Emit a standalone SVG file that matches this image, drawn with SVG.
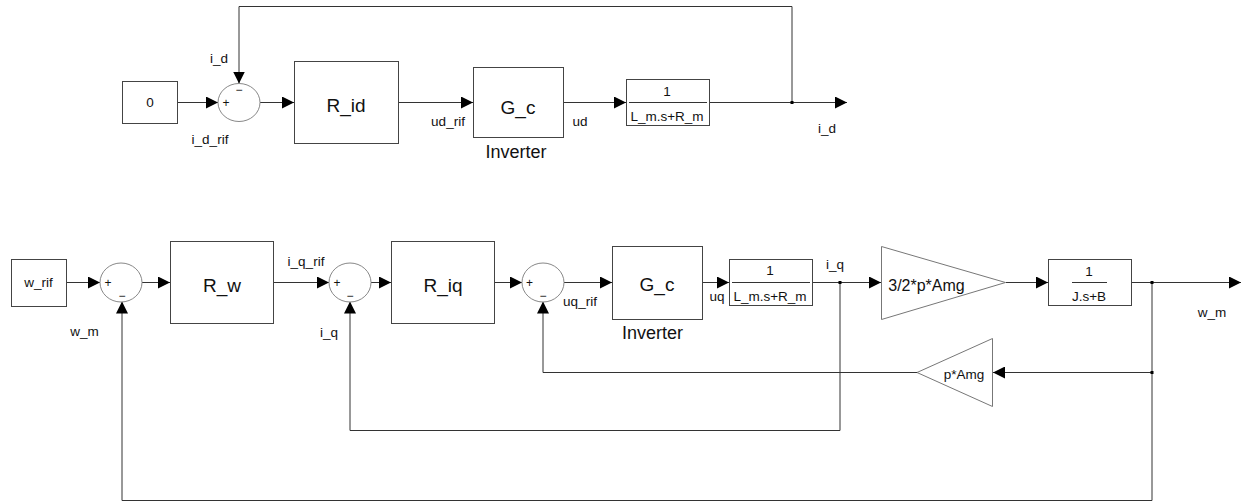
<svg xmlns="http://www.w3.org/2000/svg" width="1242" height="503" viewBox="0 0 1242 503">
<defs>
<marker id="ar" viewBox="0 0 12 12" refX="12" refY="6" markerWidth="12" markerHeight="12" markerUnits="userSpaceOnUse" orient="auto">
<path d="M0,0 L12,6 L0,12 z" fill="#000"/>
</marker>
</defs>
<style>
.blk{fill:#fff;stroke:#444;stroke-width:1}
.sum{fill:#fff;stroke:#888;stroke-width:1}
.gain{fill:#fff;stroke:#777;stroke-width:1}
.ln{fill:none;stroke:#333;stroke-width:1}
.t{font-family:"Liberation Sans",Arial,sans-serif;fill:#111;text-anchor:middle}
.big{font-size:19px}
.lab{font-size:13.5px}
.sm{font-size:13.5px}
.sg{font-size:12px}
.dot{fill:#000}
</style>
<rect width="1242" height="503" fill="#fff"/>

<g id="connectors">
<path class="ln" d="M177,102.5 L218,102.5" marker-end="url(#ar)"/>
<path class="ln" d="M260,102.5 L294,102.5" marker-end="url(#ar)"/>
<path class="ln" d="M398,102.5 L473,102.5" marker-end="url(#ar)"/>
<path class="ln" d="M563,102.5 L626,102.5" marker-end="url(#ar)"/>
<path class="ln" d="M709,102.5 L847,102.5" marker-end="url(#ar)"/>
<path class="ln" d="M792,102.5 L792,6.5 L239,6.5 L239,83.5" marker-end="url(#ar)"/>

<path class="ln" d="M66,282.5 L100,282.5" marker-end="url(#ar)"/>
<path class="ln" d="M142,282.5 L170,282.5" marker-end="url(#ar)"/>
<path class="ln" d="M273,282.5 L329,282.5" marker-end="url(#ar)"/>
<path class="ln" d="M371,282.5 L391,282.5" marker-end="url(#ar)"/>
<path class="ln" d="M494,282.5 L522,282.5" marker-end="url(#ar)"/>
<path class="ln" d="M564,282.5 L612,282.5" marker-end="url(#ar)"/>
<path class="ln" d="M702,282.5 L729,282.5" marker-end="url(#ar)"/>
<path class="ln" d="M812,282.5 L881,282.5" marker-end="url(#ar)"/>
<path class="ln" d="M1006,282.5 L1048,282.5" marker-end="url(#ar)"/>
<path class="ln" d="M1131,282.5 L1241,282.5" marker-end="url(#ar)"/>
<path class="ln" d="M1152,282.5 L1152,372.5 L993,372.5" marker-end="url(#ar)"/>
<path class="ln" d="M917,372.5 L543,372.5 L543,301.5" marker-end="url(#ar)"/>
<path class="ln" d="M840,282.5 L840,430.5 L350,430.5 L350,301.5" marker-end="url(#ar)"/>
<path class="ln" d="M1152,372.5 L1152,500.5 L122,500.5 L122,301.5" marker-end="url(#ar)"/>
<rect class="dot" x="790.5" y="101" width="3" height="3"/>
<rect class="dot" x="838.5" y="281" width="3" height="3"/>
<rect class="dot" x="1150.5" y="281" width="3" height="3"/>
<rect class="dot" x="1150.5" y="371" width="3" height="3"/>
</g>

<g id="const0">
<rect class="blk" x="122.5" y="81.5" width="55" height="42"/>
<text class="t sm" x="150" y="107">0</text>
</g>
<g id="sum_d">
<ellipse class="sum" cx="239" cy="102.5" rx="21" ry="19"/>
<text class="t sg" x="226" y="107">+</text>
<text class="t sg" x="239" y="94">−</text>
<text class="t lab" x="219" y="63">i_d</text>
<text class="t lab" x="210" y="144">i_d_rif</text>
</g>
<g id="R_id">
<rect class="blk" x="294.5" y="61.5" width="104" height="82"/>
<text class="t big" x="346" y="112">R_id</text>
</g>
<g id="Gc_d">
<rect class="blk" x="473.5" y="67.5" width="90" height="70"/>
<text class="t big" x="518" y="114">G_c</text>
<text class="t" style="font-size:18px" x="516" y="158">Inverter</text>
<text class="t lab" x="448" y="126">ud_rif</text>
<text class="t lab" x="580" y="126">ud</text>
</g>
<g id="TF_d">
<rect class="blk" x="626.5" y="79.5" width="83" height="46"/>
<line class="ln" x1="629" y1="102.5" x2="707" y2="102.5"/>
<text class="t sm" x="667" y="96">1</text>
<text class="t sm" x="667" y="121">L_m.s+R_m</text>
</g>
<g id="out_id">
<text class="t lab" x="827" y="133">i_d</text>
</g>

<g id="w_rif">
<rect class="blk" x="11.5" y="259.5" width="55" height="47"/>
<text class="t sm" x="38.5" y="287">w_rif</text>
</g>
<g id="sum_w">
<ellipse class="sum" cx="121" cy="282.5" rx="21" ry="19.5"/>
<text class="t sg" x="108" y="287">+</text>
<text class="t sg" x="122" y="300">−</text>
<text class="t lab" x="84.5" y="336">w_m</text>
</g>
<g id="R_w">
<rect class="blk" x="170.5" y="241.5" width="103" height="82"/>
<text class="t big" x="222" y="292">R_w</text>
<text class="t lab" x="306" y="266">i_q_rif</text>
</g>
<g id="sum_q">
<ellipse class="sum" cx="350" cy="282.5" rx="21" ry="19.5"/>
<text class="t sg" x="337" y="287">+</text>
<text class="t sg" x="350" y="300">−</text>
<text class="t lab" x="329" y="337">i_q</text>
</g>
<g id="R_iq">
<rect class="blk" x="391.5" y="241.5" width="103" height="82"/>
<text class="t big" x="443" y="292">R_iq</text>
</g>
<g id="sum_u">
<ellipse class="sum" cx="543" cy="282.5" rx="21" ry="19.5"/>
<text class="t sg" x="529.5" y="287">+</text>
<text class="t sg" x="543" y="300">−</text>
<text class="t lab" x="580" y="306">uq_rif</text>
</g>
<g id="Gc_q">
<rect class="blk" x="612.5" y="246.5" width="90" height="73"/>
<text class="t big" x="657" y="291">G_c</text>
<text class="t" style="font-size:18px" x="652.5" y="339">Inverter</text>
<text class="t lab" x="717" y="301">uq</text>
</g>
<g id="TF_q">
<rect class="blk" x="729.5" y="259.5" width="83" height="46"/>
<line class="ln" x1="732" y1="282.5" x2="810" y2="282.5"/>
<text class="t sm" x="770" y="275">1</text>
<text class="t sm" x="770" y="301">L_m.s+R_m</text>
<text class="t lab" x="835" y="269">i_q</text>
</g>
<g id="gain_torque">
<path class="gain" d="M881.5,246.5 L1005.5,282.5 L881.5,319.5 z"/>
<text class="t" style="font-size:16px" x="926.5" y="291">3/2*p*Amg</text>
</g>
<g id="TF_mech">
<rect class="blk" x="1048.5" y="259.5" width="83" height="46"/>
<line class="ln" x1="1072" y1="282.5" x2="1107" y2="282.5"/>
<text class="t sm" x="1089" y="276">1</text>
<text class="t sm" x="1089" y="301">J.s+B</text>
<text class="t lab" x="1212" y="317">w_m</text>
</g>
<g id="gain_emf">
<path class="gain" d="M992.5,338.5 L917,372.5 L992.5,406.5 z"/>
<text class="t sm" x="964" y="379">p*Amg</text>
</g>
</svg>
